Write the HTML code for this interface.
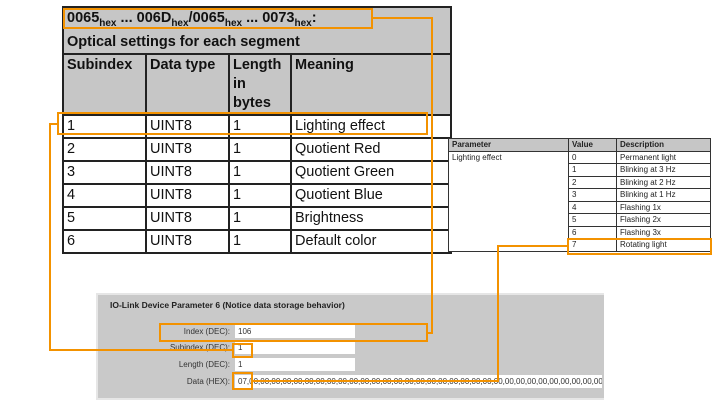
<!DOCTYPE html>
<html><head><style>
body{margin:0;width:723px;height:420px;background:#fff;position:relative;overflow:hidden;font-family:"Liberation Sans",sans-serif}
.a{position:absolute}
table{border-collapse:collapse;position:absolute;table-layout:fixed}
#t1{left:62px;top:6px;width:390px;font-size:14.5px;color:#111}
#t1 td{border:2px solid #222;padding:1px 3px;vertical-align:top;height:19px;line-height:19px;overflow:hidden}
#t1 .g td{background:#c6c6c6;font-weight:bold}
#t2{left:448px;top:138px;width:263px;font-size:8px;color:#222;background:#fff}
#t2 td{border:1px solid #333;padding:0 3px;height:11.5px;line-height:11.5px}
#t2 .h td{background:#c6c6c6;font-weight:bold}
.o{position:absolute;border:2px solid #f39200;box-sizing:border-box}
.lab{position:absolute;font-size:8px;color:#333;text-align:right;width:120px;left:110px}
.in{position:absolute;background:#fff;font-size:8px;color:#333;padding-left:3px;box-sizing:border-box;height:13px;line-height:13px;white-space:nowrap;overflow:hidden}
</style></head><body>
<table id="t1">
<col style="width:83px"><col style="width:83px"><col style="width:62px"><col>
<tr class="g"><td colspan="4" style="line-height:19px;height:38px">0065<sub style="font-size:10px">hex</sub> ... 006D<sub style="font-size:10px">hex</sub>/0065<sub style="font-size:10px">hex</sub> ... 0073<sub style="font-size:10px">hex</sub>:<br>Optical settings for each segment</td></tr>
<tr class="g"><td style="height:56px">Subindex</td><td>Data type</td><td>Length in bytes</td><td>Meaning</td></tr>
<tr><td>1</td><td>UINT8</td><td>1</td><td>Lighting effect</td></tr>
<tr><td>2</td><td>UINT8</td><td>1</td><td>Quotient Red</td></tr>
<tr><td>3</td><td>UINT8</td><td>1</td><td>Quotient Green</td></tr>
<tr><td>4</td><td>UINT8</td><td>1</td><td>Quotient Blue</td></tr>
<tr><td>5</td><td>UINT8</td><td>1</td><td>Brightness</td></tr>
<tr><td>6</td><td>UINT8</td><td>1</td><td>Default color</td></tr>
</table>
<table id="t2">
<col style="width:120px"><col style="width:48px"><col>
<tr class="h"><td>Parameter</td><td>Value</td><td>Description</td></tr>
<tr><td rowspan="8" style="vertical-align:top">Lighting effect</td><td>0</td><td>Permanent light</td></tr>
<tr><td>1</td><td>Blinking at 3 Hz</td></tr>
<tr><td>2</td><td>Blinking at 2 Hz</td></tr>
<tr><td>3</td><td>Blinking at 1 Hz</td></tr>
<tr><td>4</td><td>Flashing 1x</td></tr>
<tr><td>5</td><td>Flashing 2x</td></tr>
<tr><td>6</td><td>Flashing 3x</td></tr>
<tr><td>7</td><td>Rotating light</td></tr>
</table>
<div class="a" style="left:96px;top:293px;width:506px;height:103px;background:#c9c9c9;border:2px solid #e6e6e6;border-right:none"></div>
<div class="a" style="left:110px;top:300px;font-size:8.5px;font-weight:bold;color:#222">IO-Link Device Parameter 6 (Notice data storage behavior)</div>
<div class="lab" style="top:327px">Index (DEC):</div>
<div class="lab" style="top:343px">Subindex (DEC):</div>
<div class="lab" style="top:360px">Length (DEC):</div>
<div class="lab" style="top:377px">Data (HEX):</div>
<div class="in" style="left:235px;top:325px;width:120px">106</div>
<div class="in" style="left:235px;top:341px;width:120px">1</div>
<div class="in" style="left:235px;top:358px;width:120px">1</div>
<div class="in" style="left:235px;top:375px;width:367px">07,00,00,00,00,00,00,00,00,00,00,00,00,00,00,00,00,00,00,00,00,00,00,00,00,00,00,00,00,00,00,00,00,00</div>
<div class="o" style="left:63px;top:8px;width:310px;height:21px"></div>
<div class="o" style="left:57px;top:112px;width:371px;height:23px"></div>
<div class="o" style="left:567px;top:238px;width:145px;height:17px"></div>
<div class="o" style="left:159px;top:323px;width:269px;height:19px"></div>
<div class="o" style="left:232px;top:343px;width:21px;height:15px"></div>
<div class="o" style="left:232px;top:372px;width:21px;height:18px"></div>
<svg class="a" style="left:0;top:0" width="723" height="420"><g fill="none" stroke="#f39200" stroke-width="2">
<polyline points="373,18 432,18 432,333 428,333"/>
<polyline points="57,124 50,124 50,350 232,350"/>
<polyline points="253,381 498,381 498,246 567,246"/>
</g></svg>
</body></html>
